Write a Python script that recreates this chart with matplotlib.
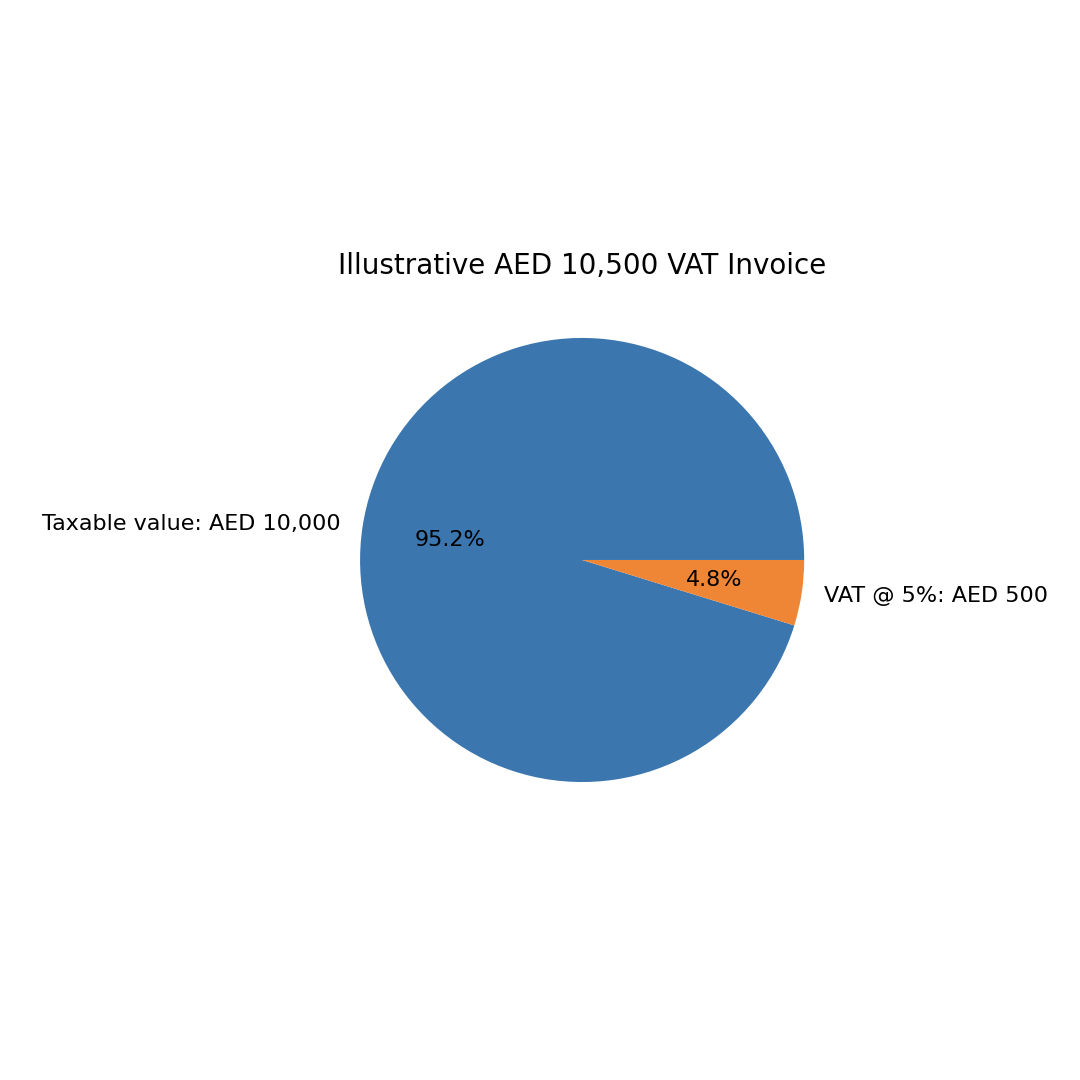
import matplotlib
matplotlib.use("Agg")
import matplotlib.pyplot as plt

labels = ["Taxable value: AED 10,000", "VAT @ 5%: AED 500"]
values = [10000, 500]
colors = ["#3b76af", "#ef8636"]

fig = plt.figure(figsize=(10.8, 10.8), dpi=100)
ax = fig.add_axes([0.282, 0.2245, 0.514, 0.514])
ax.pie(values, labels=labels, colors=colors, autopct="%1.1f%%",
       textprops={"fontsize": 16})
ax.set_xlim(-1.25, 1.25)
ax.set_ylim(-1.25, 1.25)
ax.set_aspect("equal")
ax.set_title("Illustrative AED 10,500 VAT Invoice", fontsize=20)
fig.savefig("out.png", dpi=100)
